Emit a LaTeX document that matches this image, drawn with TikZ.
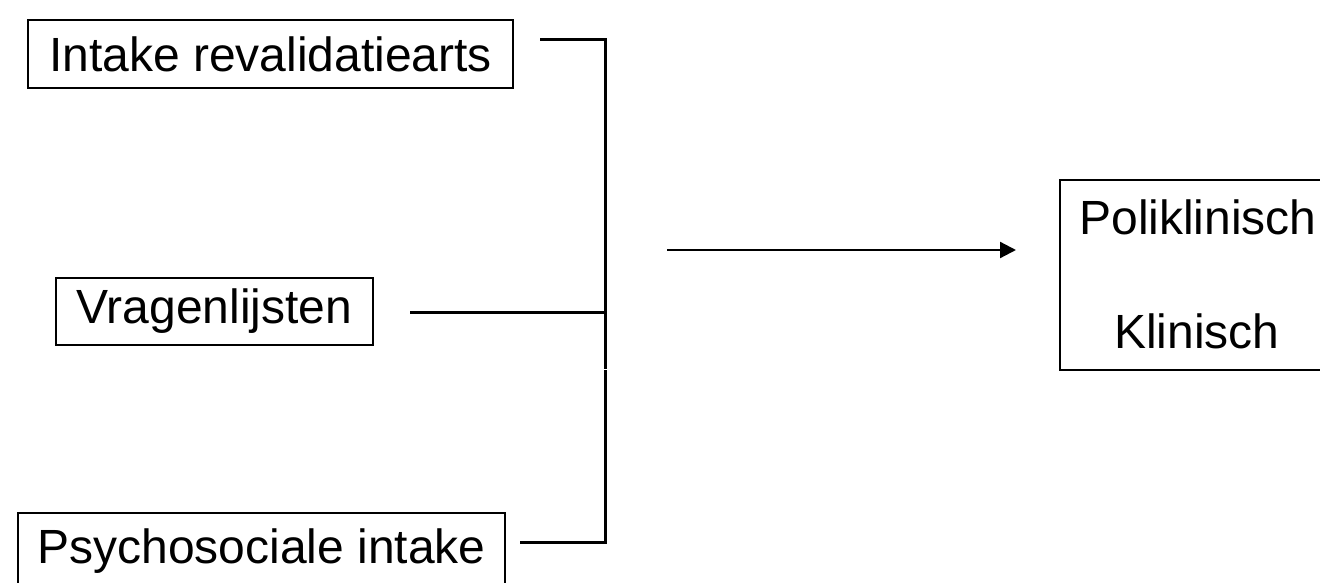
\documentclass[tikz,border=0pt]{standalone}
\usepackage{fontspec}
\setmainfont{Liberation Sans}
\usetikzlibrary{arrows.meta}
\begin{document}
\begin{tikzpicture}[x=1pt,y=-1pt,
  box/.style={draw, line width=1.5pt, inner sep=0pt, font=\fontsize{48}{56}\selectfont},
  conn/.style={line width=3pt},
  txt/.style={inner sep=0pt, font=\fontsize{48}{56}\selectfont}]
\useasboundingbox (0,0) rectangle (1320,583);
\node[box, minimum width=485, minimum height=68] (intake) at (270.5,54) {Intake revalidatiearts};
\node[box, minimum width=317, minimum height=67] (vragen) at (214.5,311.5) {Vragenlijsten};
\node[box, minimum width=487, minimum height=76] (psycho) at (261.5,551) {Psychosociale intake};
\node[draw, line width=1.5pt, minimum width=280, minimum height=190, inner sep=0pt] (result) at (1200,275) {};
\node[txt] (poli) at (1198,217) {Poliklinisch};
\node[txt] (klin) at (1197,331) {Klinisch};
\coordinate (a1) at (540,40);
\coordinate (c1) at (605,40);
\coordinate (g1) at (605,368.5);
\coordinate (g2) at (605,370);
\coordinate (c3) at (605,542);
\coordinate (a3) at (520,542);
\coordinate (a2) at (410,312);
\coordinate (c2) at (605,312);
\coordinate (s) at (667,250);
\coordinate (e) at (1016,250);
\draw[conn] (a1) -- (c1) -- (g1);
\draw[conn] (g2) -- (c3) -- (a3);
\draw[conn] (a2) -- (c2);
\draw[line width=2.2pt, -{Triangle[length=16pt,width=16pt]}] (s) -- (e);
\end{tikzpicture}
\end{document}
